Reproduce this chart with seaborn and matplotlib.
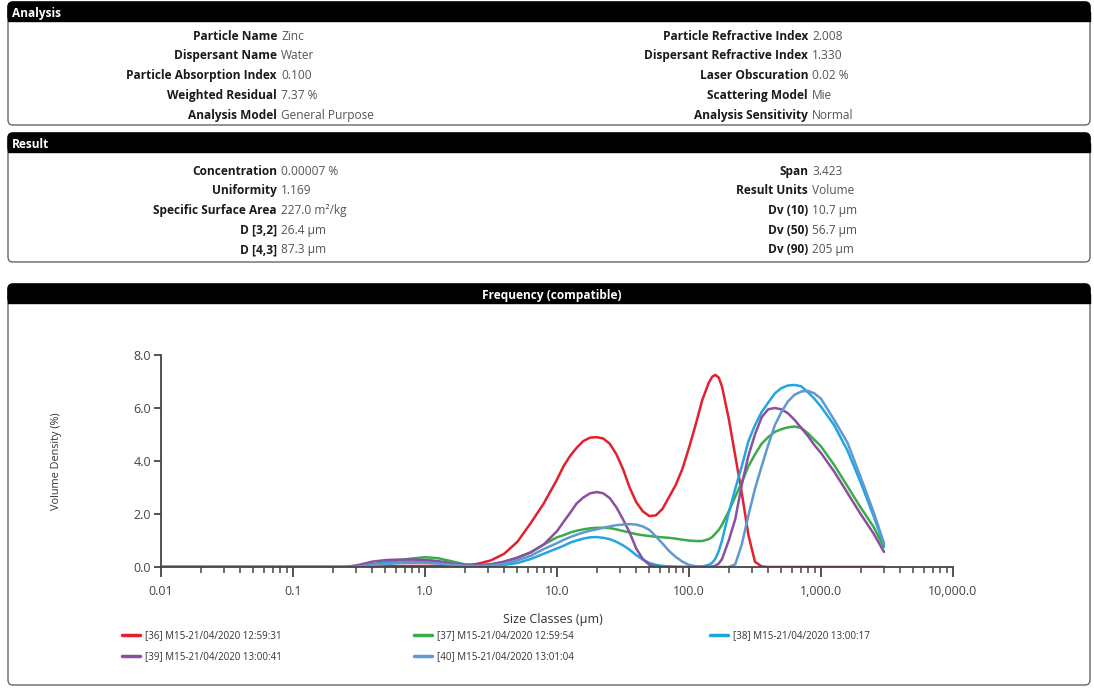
import numpy as np
import pandas as pd
import matplotlib
matplotlib.use("Agg")
import matplotlib.pyplot as plt
import seaborn as sns
from matplotlib.patches import FancyBboxPatch, Rectangle
from matplotlib.ticker import LogLocator, NullFormatter, FuncFormatter, FixedLocator

sns.set_theme(style="ticks")
plt.rcParams['font.family'] = ['Open Sans', 'DejaVu Sans']

# ---- report values ----
analysis_left = [("Particle Name", "Zinc"), ("Dispersant Name", "Water"),
                 ("Particle Absorption Index", "0.100"), ("Weighted Residual", "7.37 %"),
                 ("Analysis Model", "General Purpose")]
analysis_right = [("Particle Refractive Index", "2.008"), ("Dispersant Refractive Index", "1.330"),
                  ("Laser Obscuration", "0.02 %"), ("Scattering Model", "Mie"),
                  ("Analysis Sensitivity", "Normal")]
result_left = [("Concentration", "0.00007 %"), ("Uniformity", "1.169"),
               ("Specific Surface Area", "227.0 m²/kg"), ("D [3,2]", "26.4 µm"),
               ("D [4,3]", "87.3 µm")]
result_right = [("Span", "3.423"), ("Result Units", "Volume"), ("Dv (10)", "10.7 µm"),
                ("Dv (50)", "56.7 µm"), ("Dv (90)", "205 µm")]

# ---- size classes (µm) and volume density (%) ----
sizes = [0.01, 0.251, 0.316, 0.398, 0.501, 0.631, 0.794, 1.0, 1.26, 1.58, 2.0, 2.51, 3.16, 3.98, 5.01, 6.31, 7.94,
         10.0, 11.2, 12.6, 14.1, 15.8, 17.8, 20.0, 22.4, 25.1, 28.2, 31.6, 35.5, 39.8, 44.7, 50.1, 56.2, 63.1, 70.8, 79.4, 89.1,
         100, 112, 126, 141, 150, 158, 168, 178, 200, 224, 251, 282, 316, 355, 398, 447, 501, 562, 631, 708, 794, 891,
         1000, 1259, 1585, 1995, 2512, 3000]

run36 = [0, 0, 0.01, 0.02, 0.03, 0.03, 0.04, 0.04, 0.04, 0.04, 0.06, 0.12, 0.25, 0.5, 0.95, 1.65, 2.4,
         3.3, 3.8, 4.2, 4.5, 4.75, 4.88, 4.9, 4.85, 4.65, 4.25, 3.7, 3.0, 2.45, 2.1, 1.92, 1.95, 2.2, 2.65, 3.1, 3.7,
         4.5, 5.35, 6.3, 6.95, 7.18, 7.25, 7.15, 6.8, 5.6, 4.2, 2.8, 1.2, 0.2, 0.02, 0, 0, 0, 0, 0, 0, 0, 0,
         0, 0, 0, 0, 0, 0]
run37 = [0, 0, 0.03, 0.1, 0.18, 0.25, 0.32, 0.37, 0.33, 0.22, 0.1, 0.06, 0.1, 0.2, 0.35, 0.55, 0.85,
         1.12, 1.2, 1.3, 1.37, 1.42, 1.46, 1.48, 1.48, 1.47, 1.42, 1.36, 1.3, 1.24, 1.2, 1.17, 1.14, 1.12, 1.1, 1.07, 1.03,
         1.0, 0.98, 0.98, 1.05, 1.13, 1.25, 1.4, 1.6, 2.1, 2.65, 3.2, 3.8, 4.25, 4.65, 4.9, 5.1, 5.2, 5.27, 5.3, 5.25, 5.05, 4.8,
         4.55, 3.85, 3.05, 2.25, 1.5, 0.75]
run38 = [0, 0, 0.03, 0.09, 0.14, 0.17, 0.2, 0.22, 0.2, 0.14, 0.07, 0.04, 0.05, 0.08, 0.15, 0.3, 0.5,
         0.7, 0.8, 0.92, 1.0, 1.07, 1.12, 1.13, 1.1, 1.05, 0.95, 0.82, 0.65, 0.45, 0.28, 0.15, 0.08, 0.04, 0.02, 0.01, 0,
         0, 0, 0.02, 0.08, 0.16, 0.3, 0.6, 1.0, 2.05, 2.95, 3.8, 4.75, 5.35, 5.85, 6.2, 6.55, 6.75, 6.85, 6.87, 6.82, 6.6, 6.35,
         6.05, 5.35, 4.4, 3.2, 1.9, 0.83]
run39 = [0, 0, 0.08, 0.2, 0.26, 0.28, 0.28, 0.27, 0.22, 0.14, 0.08, 0.07, 0.1, 0.2, 0.35, 0.55, 0.85,
         1.35, 1.7, 2.05, 2.4, 2.62, 2.78, 2.83, 2.78, 2.6, 2.25, 1.8, 1.3, 0.7, 0.3, 0.08, 0.02, 0, 0, 0, 0,
         0, 0, 0, 0.01, 0.02, 0.05, 0.13, 0.3, 1.0, 1.8, 3.1, 4.2, 5.0, 5.65, 5.95, 6.0, 5.95, 5.8, 5.55, 5.25, 4.95, 4.6,
         4.3, 3.6, 2.8, 2.0, 1.25, 0.57]
run40 = [0, 0, 0.02, 0.07, 0.11, 0.14, 0.16, 0.16, 0.13, 0.09, 0.05, 0.04, 0.06, 0.12, 0.25, 0.42, 0.68,
         0.9, 1.02, 1.13, 1.22, 1.3, 1.37, 1.42, 1.48, 1.53, 1.58, 1.6, 1.62, 1.6, 1.53, 1.4, 1.15, 0.88, 0.6, 0.38, 0.2,
         0.08, 0.03, 0.01, 0, 0, 0, 0, 0, 0, 0.1, 0.85, 1.95, 2.95, 3.8, 4.6, 5.35, 5.85, 6.25, 6.5, 6.62, 6.65, 6.55,
         6.35, 5.55, 4.7, 3.4, 2.05, 0.9]

run_names = ["[36] M15-21/04/2020 12:59:31", "[37] M15-21/04/2020 12:59:54",
             "[38] M15-21/04/2020 13:00:17", "[39] M15-21/04/2020 13:00:41",
             "[40] M15-21/04/2020 13:01:04"]
run_colors = ["#e3212d", "#3aab4b", "#23a6e0", "#8b4f9f", "#6198cf"]

df = pd.concat([pd.DataFrame({"size": sizes, "density": v, "run": n})
                for n, v in zip(run_names, [run36, run37, run38, run39, run40])])

W, H = 1094, 688
fig = plt.figure(figsize=(W / 100, H / 100), dpi=100)

# background layer in pixel coordinates for the report panels
bg = fig.add_axes([0, 0, 1, 1])
bg.set_xlim(0, W)
bg.set_ylim(H, 0)
bg.axis("off")

TXT = 8.6


def panel(y0, y1, hdr, title, centered=False):
    bg.add_patch(FancyBboxPatch((8, y0), 1082, y1 - y0, boxstyle="round,pad=0,rounding_size=5",
                                fc="white", ec="#666666", lw=1.0))
    bg.add_patch(FancyBboxPatch((8, y0), 1082, hdr, boxstyle="round,pad=0,rounding_size=5",
                                fc="black", ec="black", lw=1.0))
    bg.add_patch(Rectangle((8, y0 + hdr / 2), 1082, hdr / 2, fc="black", ec="black", lw=1.0))
    x = 552 if centered else 12
    bg.text(x, y0 + hdr / 2 + 0.5, title, color="white", fontsize=TXT, weight="bold",
            ha="center" if centered else "left", va="center_baseline")


def rows(items, x, ys):
    for (lab, val), y in zip(items, ys):
        bg.text(x - 3, y, lab, fontsize=TXT, weight="bold", color="#1a1a1a", ha="right", va="center_baseline")
        bg.text(x + 1, y, val, fontsize=TXT, color="#555555", ha="left", va="center_baseline")


panel(2, 125, 19, "Analysis")
rows(analysis_left, 280, [35, 54, 74, 94, 114])
rows(analysis_right, 811, [35, 54, 74, 94, 114])

panel(133, 262, 19, "Result")
rows(result_left, 280, [170, 189, 209, 229, 248])
rows(result_right, 811, [170, 189, 209, 229, 248])

panel(284, 685, 19, "Frequency (compatible)", centered=True)

# ---- frequency chart ----
ax = fig.add_axes([161 / W, 1 - 567 / H, 792 / W, 212 / H])
ax.set_facecolor("none")
sns.lineplot(data=df, x="size", y="density", hue="run", palette=dict(zip(run_names, run_colors)),
             linewidth=1.8, ax=ax, legend=True)
ax.set_xscale("log")
ax.set_xlim(0.01, 10000)
ax.set_ylim(0, 8)

for s in ["top", "right"]:
    ax.spines[s].set_visible(False)
for s in ["left", "bottom"]:
    ax.spines[s].set_color("#444444")
    ax.spines[s].set_linewidth(1.3)

ax.xaxis.set_major_locator(FixedLocator([0.01, 0.1, 1, 10, 100, 1000, 10000]))
ax.xaxis.set_minor_locator(LogLocator(base=10, subs=np.arange(2, 10), numticks=100))
ax.xaxis.set_minor_formatter(NullFormatter())
ax.xaxis.set_major_formatter(FuncFormatter(lambda v, p: f"{v:g}" if v < 1 else f"{v:,.1f}"))
ax.set_yticks([0, 2, 4, 6, 8])
ax.yaxis.set_major_formatter(FuncFormatter(lambda v, p: f"{v:.1f}"))

ax.tick_params(axis="x", which="major", length=7, width=1.3, color="#444444", pad=6,
               labelsize=9, labelcolor="#444444")
ax.tick_params(axis="x", which="minor", length=4.5, width=1.1, color="#444444")
ax.tick_params(axis="y", which="major", length=5, width=1.3, color="#444444", pad=2,
               labelsize=9, labelcolor="#444444")

ax.set_xlabel("Size Classes (µm)", fontsize=9, color="#333333")
ax.set_ylabel("Volume Density (%)", fontsize=7.8, color="#333333")
ax.xaxis.set_label_coords(0.495, -0.215)
ax.yaxis.set_label_coords(-0.125, 0.5)

# legend laid out row-wise in three columns
handles, labels = ax.get_legend_handles_labels()
ax.get_legend().remove()
lut = dict(zip(labels, handles))
cols = [(122, [run_names[0], run_names[3]]), (414, [run_names[1], run_names[4]]), (710, [run_names[2]])]
for x0, names in cols:
    leg = bg.legend([lut[n] for n in names], names, loc="upper left",
                    bbox_to_anchor=(x0 / W, 1 - 630 / H), bbox_transform=fig.transFigure,
                    frameon=False, fontsize=7, handlelength=1.9, handletextpad=0.5,
                    borderpad=0, borderaxespad=0, labelspacing=1.05)
    for t in leg.get_texts():
        t.set_color("#333333")
    for l in leg.get_lines():
        l.set_linewidth(2.5)
    bg.add_artist(leg)
bg.legend_ = None

fig.savefig("out.png", dpi=100)
